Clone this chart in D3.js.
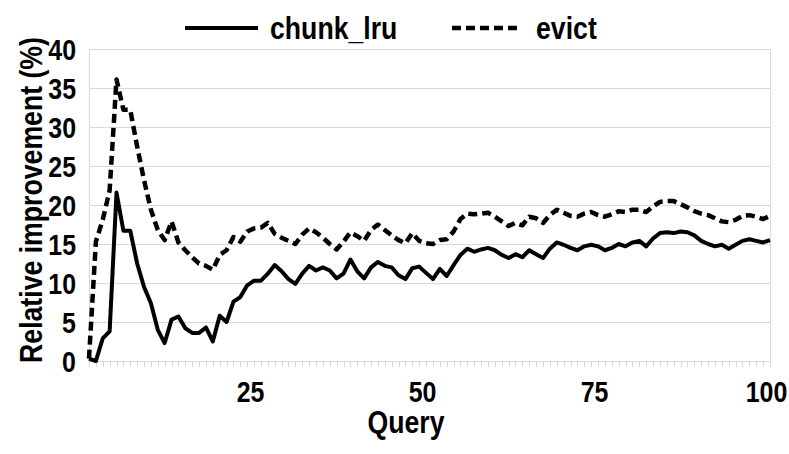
<!DOCTYPE html>
<html>
<head>
<meta charset="utf-8">
<script src="https://cdn.jsdelivr.net/npm/d3@7"></script>
<style>
  html, body { margin: 0; padding: 0; background: #fff; }
  svg text { font-family: 'Liberation Sans', Arial, sans-serif; font-weight: bold; fill: #000; }
</style>
</head>
<body>
<svg id="chart" width="789" height="454"></svg>
<script>
const queries = d3.range(1, 101);
const chunkLru = [
  0.3, 0.0, 2.9, 3.8, 21.6, 16.7, 16.7, 12.5, 9.5, 7.4,
  4.0, 2.3, 5.3, 5.7, 4.2, 3.6, 3.6, 4.3, 2.5, 5.8,
  5.0, 7.6, 8.2, 9.7, 10.3, 10.3, 11.2, 12.3, 11.5, 10.5,
  9.9, 11.2, 12.2, 11.6, 12.0, 11.6, 10.6, 11.2, 13.0, 11.5,
  10.6, 12.0, 12.7, 12.2, 12.0, 11.0, 10.5, 11.9, 12.1, 11.3,
  10.5, 11.8, 10.9, 12.3, 13.6, 14.4, 14.0, 14.3, 14.5, 14.2,
  13.6, 13.2, 13.7, 13.3, 14.2, 13.7, 13.2, 14.4, 15.2, 14.9,
  14.5, 14.2, 14.7, 14.9, 14.7, 14.2, 14.5, 15.0, 14.7, 15.2,
  15.4, 14.7, 15.7, 16.4, 16.5, 16.4, 16.6, 16.5, 16.1, 15.4,
  15.0, 14.7, 14.9, 14.4, 14.9, 15.4, 15.6, 15.4, 15.2, 15.5
];
const evict = [
  0.3, 15.3, 18.1, 21.9, 36.1, 32.2, 32.2, 27.5, 23.2, 19.4,
  16.8, 15.5, 17.9, 15.2, 14.2, 13.3, 12.5, 12.2, 11.7, 13.6,
  14.2, 15.9, 15.3, 16.6, 17.0, 17.1, 17.7, 16.3, 15.8, 15.4,
  15.0, 16.2, 17.0, 16.5, 15.8, 15.0, 14.3, 15.3, 16.5, 16.0,
  15.4, 16.8, 17.5, 16.8, 16.1, 15.5, 15.1, 16.4, 15.4, 15.1,
  15.0, 15.5, 15.6, 16.6, 18.2, 18.9, 18.8, 18.9, 19.0, 18.5,
  17.9, 17.3, 17.7, 17.4, 18.5, 18.3, 17.7, 18.7, 19.4, 19.0,
  18.6, 18.5, 18.9, 19.1, 18.7, 18.5, 18.8, 19.2, 19.1, 19.4,
  19.4, 19.1, 19.8, 20.4, 20.5, 20.5, 20.1, 19.7, 19.2, 18.9,
  18.7, 18.3, 17.9, 17.8, 18.1, 18.6, 18.7, 18.5, 18.2, 18.6
];
const xTicks = [25, 50, 75, 100];
const yTicks = [0, 5, 10, 15, 20, 25, 30, 35, 40];
const seriesNames = ["chunk_lru", "evict"];

const svg = d3.select("#chart");
const mLeft = 89, mRight = 770, mTop = 49, mBottom = 361;
const x = d3.scaleLinear().domain([1, 100]).range([mLeft, mRight]);
const y = d3.scaleLinear().domain([0, 40]).range([mBottom, mTop]);
const grid = "#d9d9d9";
const SX = 0.86;

// gridlines
svg.append("g").selectAll("line").data(yTicks.filter(d => d > 0)).join("line")
  .attr("x1", mLeft).attr("x2", mRight)
  .attr("y1", d => y(d)).attr("y2", d => y(d))
  .attr("stroke", grid).attr("stroke-width", 1).attr("shape-rendering", "crispEdges");
// right border
svg.append("line").attr("x1", mRight).attr("x2", mRight).attr("y1", mTop).attr("y2", mBottom)
  .attr("stroke", grid).attr("shape-rendering", "crispEdges");

// y axis
const yAxis = d3.axisLeft(y).tickValues(yTicks).tickSize(0).tickPadding(0);
const gy = svg.append("g").attr("transform", `translate(${mLeft},0)`).call(yAxis);
gy.select(".domain").attr("stroke", grid).attr("shape-rendering", "crispEdges");
gy.selectAll("text").attr("font-size", 29).attr("dy", "0.36em").attr("x", 0)
  .attr("transform", `translate(-13,0) scale(${SX},1)`);

// x axis minor ticks
const xAxisMinor = d3.axisBottom(x).tickValues(queries).tickSize(6).tickFormat("");
const gxm = svg.append("g").attr("transform", `translate(0,${mBottom})`).call(xAxisMinor);
gxm.select(".domain").attr("stroke", grid).attr("shape-rendering", "crispEdges");
gxm.selectAll(".tick line").attr("stroke", grid).attr("shape-rendering", "crispEdges");
// x axis labels
const xAxis = d3.axisBottom(x).tickValues(xTicks).tickSize(0).tickPadding(20);
const gx = svg.append("g").attr("transform", `translate(0,${mBottom})`).call(xAxis);
gx.select(".domain").remove();
gx.selectAll("text").attr("font-size", 29)
  .attr("transform", `translate(-4,0) scale(${SX},1)`);

// lines
const line = d3.line().x((d, i) => x(queries[i])).y(d => y(d));
svg.append("path").datum(evict).attr("d", line)
  .attr("fill", "none").attr("stroke", "#000").attr("stroke-width", 4.5)
  .attr("stroke-dasharray", "9,5").attr("stroke-linejoin", "round");
svg.append("path").datum(chunkLru).attr("d", line)
  .attr("fill", "none").attr("stroke", "#000").attr("stroke-width", 4)
  .attr("stroke-linejoin", "round");

// axis titles
svg.append("text").attr("transform", `translate(406,433) scale(${SX},1)`).attr("text-anchor", "middle")
  .attr("font-size", 31).text("Query");
svg.append("text").attr("transform", `translate(42,200) rotate(-90) scale(${SX},1)`).attr("text-anchor", "middle")
  .attr("font-size", 31).text("Relative improvement (%)");

// legend
const legend = [
  { name: seriesNames[0], x1: 185, x2: 258, tx: 270, dash: null, w: 4 },
  { name: seriesNames[1], x1: 452, x2: 522, tx: 536, dash: "9,5", w: 4.5 }
];
legend.forEach(l => {
  svg.append("line").attr("x1", l.x1).attr("x2", l.x2).attr("y1", 28).attr("y2", 28)
    .attr("stroke", "#000").attr("stroke-width", l.w).attr("stroke-dasharray", l.dash);
  svg.append("text").attr("transform", `translate(${l.tx},39) scale(${SX},1)`)
    .attr("font-size", 31).text(l.name);
});
</script>
</body>
</html>
